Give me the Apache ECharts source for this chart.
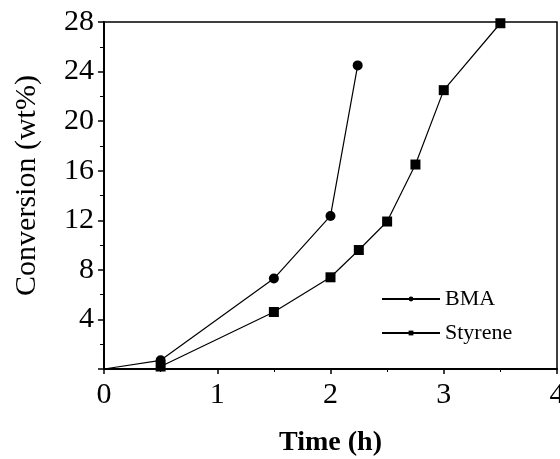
<!DOCTYPE html>
<html>
<head>
<meta charset="utf-8">
<script src="https://cdn.jsdelivr.net/npm/echarts@6/dist/echarts.min.js"></script>
<style>
  html, body { margin: 0; padding: 0; background: #fff; }
  #chart { width: 560px; height: 459px; }
</style>
</head>
<body>
<div id="chart"></div>
<script>
// conversion vs time
const bmaTime = [0, 0.5, 1.5, 2.0, 2.24]
const bmaConv = [0, 0.7, 7.3, 12.35, 24.5]
const styTime = [0.5, 1.5, 2.0, 2.25, 2.5, 2.75, 3.0, 3.5]
const styConv = [0.2, 4.6, 7.4, 9.6, 11.9, 16.5, 22.5, 27.9]
const xTicks = [0, 1, 2, 3, 4]
const yTicks = [4, 8, 12, 16, 20, 24, 28]

const font = 'Liberation Serif'
const chart = echarts.init(document.getElementById('chart'))

// the point at the origin sits on the axis, no marker drawn there
const pairs = (xs, ys) => xs.map((x, i) =>
  x === 0 ? { value: [x, ys[i]], symbol: 'none' } : [x, ys[i]])

chart.setOption({
  animation: false,
  grid: {
    left: 104, right: 3, top: 22, bottom: 90,
    outerBoundsMode: 'none',
    show: true, borderColor: '#000', borderWidth: 1.5
  },
  legend: {
    orient: 'vertical',
    left: 376, top: 283,
    itemWidth: 58, itemHeight: 6, itemGap: 12,
    textStyle: { fontFamily: font, fontSize: 22, color: '#000' },
    data: ['BMA', 'Styrene']
  },
  xAxis: {
    type: 'value', min: 0, max: 4, interval: 1,
    name: 'Time (h)', nameLocation: 'middle', nameGap: 60,
    nameTextStyle: { fontFamily: font, fontSize: 28, fontWeight: 'bold', color: '#000' },
    axisLine: { lineStyle: { color: '#000', width: 2 } },
    axisTick: { length: 5, lineStyle: { color: '#000', width: 1.5 } },
    minorTick: { show: true, splitNumber: 2, length: 3, lineStyle: { color: '#000' } },
    splitLine: { show: false },
    axisLabel: {
      margin: 11, fontFamily: font, fontSize: 30, color: '#000',
      formatter: v => xTicks.includes(v) ? String(v) : ''
    }
  },
  yAxis: {
    type: 'value', min: 0, max: 28, interval: 4,
    name: 'Conversion (wt%)', nameLocation: 'middle', nameGap: 62,
    nameTextStyle: { fontFamily: font, fontSize: 30, color: '#000', padding: [0, 0, 0, 20] },
    axisLine: { lineStyle: { color: '#000', width: 2 } },
    axisTick: { length: 6, lineStyle: { color: '#000', width: 1.5 } },
    minorTick: { show: true, splitNumber: 2, length: 4, lineStyle: { color: '#000' } },
    splitLine: { show: false },
    axisLabel: {
      margin: 10, fontFamily: font, fontSize: 30, color: '#000',
      formatter: v => yTicks.includes(v) ? String(v) : ''
    }
  },
  series: [
    {
      name: 'BMA', type: 'line',
      data: pairs(bmaTime, bmaConv),
      symbol: 'circle', symbolSize: 10,
      itemStyle: { color: '#000' },
      lineStyle: { color: '#000', width: 1.2 }
    },
    {
      name: 'Styrene', type: 'line',
      data: pairs(styTime, styConv),
      symbol: 'rect', symbolSize: 10,
      itemStyle: { color: '#000' },
      lineStyle: { color: '#000', width: 1.2 }
    }
  ]
})
</script>
</body>
</html>
